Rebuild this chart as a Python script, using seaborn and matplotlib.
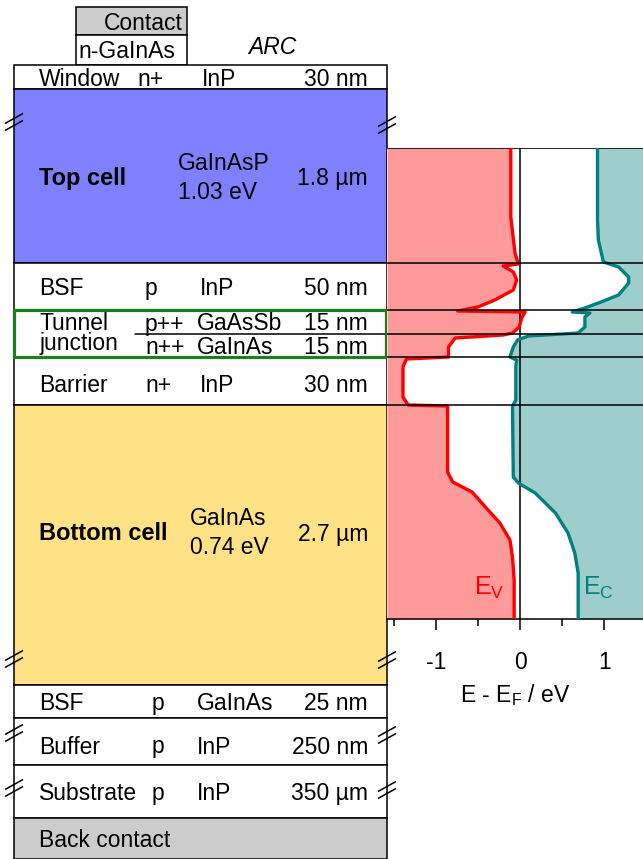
import numpy as np
import pandas as pd
import seaborn as sns
import matplotlib.pyplot as plt
from matplotlib.patches import Rectangle

# layer stack (schematic depth, top -> bottom)
layer_top = [65, 89, 263, 310, 357, 405, 685, 718, 765, 818]
layer_bottom = [89, 263, 310, 357, 405, 685, 718, 765, 818, 859]
layer_color = ["white", "#8080FF", "white", "white", "white", "#FFE285",
               "white", "white", "white", "#CCCCCC"]
layer_name = ["Window", "Top cell", "BSF", "Tunnel\njunction", "Barrier",
              "Bottom cell", "BSF", "Buffer", "Substrate", "Back contact"]
layer_doping = ["n+", "", "p", "", "n+", "", "p", "p", "p", ""]
layer_material = ["InP", "GaInAsP\n1.03 eV", "InP", "", "InP",
                  "GaInAs\n0.74 eV", "GaInAs", "InP", "InP", ""]
layer_thickness = ["30 nm", "1.8 µm", "50 nm", "", "30 nm", "2.7 µm",
                   "25 nm", "250 nm", "350 µm", ""]
tunnel_doping = ["p++", "n++"]
tunnel_material = ["GaAsSb", "GaInAs"]
tunnel_thickness = ["15 nm", "15 nm"]
tunnel_split = 334

# band edges vs depth
ev_depth = [148, 217, 253, 264, 266, 272, 280, 290, 300, 307, 311, 312, 318,
            327, 333, 335, 338, 347, 357, 359, 367, 397, 405, 406, 472, 482,
            492, 510, 523, 540, 557, 580, 619]
ev_energy = [-0.11, -0.11, -0.06, -0.02, -0.20, -0.08, -0.04, -0.08, -0.30,
             -0.50, -0.74, 0.06, 0.02, -0.01, -0.09, -0.20, -0.77, -0.85,
             -0.85, -1.35, -1.39, -1.39, -1.33, -0.86, -0.86, -0.80, -0.57,
             -0.38, -0.24, -0.12, -0.09, -0.07, -0.07]
ec_depth = [148, 220, 240, 262, 267, 277, 283, 295, 303, 308, 312, 313, 317,
            327, 333, 336, 340, 347, 357, 360, 366, 400, 406, 477, 483, 493,
            513, 533, 553, 573, 619]
ec_energy = [0.92, 0.92, 0.93, 0.99, 1.17, 1.29, 1.29, 1.17, 0.93, 0.77, 0.62,
             0.83, 0.77, 0.77, 0.69, 0.10, -0.03, -0.08, -0.12, -0.04, -0.05,
             -0.05, -0.09, -0.08, -0.02, 0.18, 0.42, 0.57, 0.65, 0.69, 0.69]
band_lines = [263, 310, 334, 357, 405]

sns.set_style("white")
plt.rcParams["font.family"] = ["Liberation Sans", "DejaVu Sans"]
plt.rcParams["mathtext.fontset"] = "custom"
plt.rcParams["mathtext.rm"] = "Liberation Sans"
plt.rcParams["mathtext.it"] = "Liberation Sans:italic"
plt.rcParams["text.color"] = "black"
plt.rcParams["axes.labelcolor"] = "black"
plt.rcParams["xtick.color"] = "black"

fs = 16.5
dy = 2  # nudge so caps sit centred like the original
fig = plt.figure(figsize=(6.43, 8.59), dpi=100)
ax0 = fig.add_axes([0, 0, 1, 1])
ax0.set_xlim(0, 643)
ax0.set_ylim(859, 0)
ax0.axis("off")

x_left, x_right = 14, 387

# contact on top
ax0.add_patch(Rectangle((76, 7), 111, 28, facecolor="#CCCCCC", edgecolor="black", lw=1.1))
ax0.add_patch(Rectangle((76, 35), 111, 30, facecolor="white", edgecolor="black", lw=1.1))
ax0.text(183, 21 + dy, "Contact", ha="right", va="center", fontsize=fs)
ax0.text(78, 50 + dy, "n-GaInAs", ha="left", va="center", fontsize=fs)
ax0.text(272, 45 + dy, "ARC", ha="center", va="center", fontsize=fs, style="italic")

for i in range(len(layer_top)):
    top, bot = layer_top[i], layer_bottom[i]
    ax0.add_patch(Rectangle((x_left, top), x_right - x_left, bot - top,
                            facecolor=layer_color[i], edgecolor="black", lw=1.1))
    mid = (top + bot) / 2 + dy
    name = layer_name[i]
    if name in ("Top cell", "Bottom cell"):
        ym = (177 if name == "Top cell" else 532) + dy
        ax0.text(39, ym, name, ha="left", va="center", fontsize=17, weight="bold")
        mx = 178 if name == "Top cell" else 190
        ax0.text(mx, ym - 1, layer_material[i], ha="left", va="center", fontsize=fs,
                 linespacing=1.3)
        ax0.text(368, ym, layer_thickness[i], ha="right", va="center", fontsize=fs)
        continue
    if name.startswith("Tunnel"):
        ax0.text(40, mid - 2, name, ha="left", va="center", fontsize=fs, linespacing=0.85)
        for k, yy in enumerate([322, 346]):
            ax0.text(145, yy + dy, tunnel_doping[k], ha="left", va="center", fontsize=fs)
            ax0.text(197, yy + dy, tunnel_material[k], ha="left", va="center", fontsize=fs)
            ax0.text(368, yy + dy, tunnel_thickness[k], ha="right", va="center", fontsize=fs)
        ax0.plot([135, x_right], [tunnel_split, tunnel_split], color="black", lw=1.1)
        continue
    if name == "Barrier":
        mid = 384 + dy
    if name == "Buffer":
        mid = 745 + dy
    ax0.text(39, mid, name, ha="left", va="center", fontsize=fs)
    if layer_doping[i]:
        dx = 137 if name == "Window" else (145 if i < 6 else 152)
        ax0.text(dx, mid, layer_doping[i], ha="left", va="center", fontsize=fs)
    if layer_material[i]:
        mx = 202 if name == "Window" else (200 if i < 6 else 197)
        ax0.text(mx, mid, layer_material[i], ha="left", va="center", fontsize=fs)
    if layer_thickness[i]:
        ax0.text(368, mid, layer_thickness[i], ha="right", va="center", fontsize=fs)

# tunnel junction frame
ax0.add_patch(Rectangle((x_left, 310), x_right - x_left - 1, 47, facecolor="none",
                        edgecolor="#1E7D1E", lw=2.3, zorder=5))

# break marks
for bx, by in [(14, 122), (387, 125), (14, 659), (387, 660),
               (14, 733), (387, 735), (14, 788), (387, 790)]:
    for off in (-3.5, 3.5):
        ax0.plot([bx - 9, bx + 9], [by + off + 5, by + off - 5], color="black",
                 lw=1.1, zorder=6, solid_capstyle="butt")

# band diagram
ax = fig.add_axes([387 / 643, (859 - 619) / 859, 256 / 643, (619 - 148) / 859])
xmin, xmax = -1.58, 1.46
ax.fill_betweenx(ev_depth, xmin, ev_energy, color="#FF9A9A", lw=0)
ax.fill_betweenx(ec_depth, ec_energy, xmax, color="#9ECECC", lw=0)
ev_df = pd.DataFrame({"E": ev_energy, "z": ev_depth})
ec_df = pd.DataFrame({"E": ec_energy, "z": ec_depth})
sns.lineplot(data=ev_df, x="E", y="z", sort=False, estimator=None, color="#FF0000",
             lw=2.4, ax=ax, zorder=4)
sns.lineplot(data=ec_df, x="E", y="z", sort=False, estimator=None, color="#008080",
             lw=2.4, ax=ax, zorder=4)
ax.axvline(0, color="black", lw=1.1, zorder=3)
for yy in band_lines:
    ax.axhline(yy, color="black", lw=1.1, zorder=5)
ax.set_xlim(xmin, xmax)
ax.set_ylim(619, 148)
ax.set_yticks([])
ax.set_xticks([-1, 0, 1])
ax.set_xticklabels(["-1", "0", "1"])
ax.set_xticks([-1.5, -0.5, 0.5], minor=True)
ax.tick_params(axis="x", which="major", direction="out", length=8, width=1.1,
               pad=15, labelsize=fs, bottom=True)
ax.tick_params(axis="x", which="minor", direction="out", length=5, width=1.1, bottom=True)
for s in ["left", "right"]:
    ax.spines[s].set_visible(False)
ax.spines["top"].set_linewidth(0.6)
ax.spines["bottom"].set_linewidth(1.1)
ax.spines["bottom"].set_color("black")
ax.spines["top"].set_color("black")
ax.set_xlabel(r"E - E$_\mathrm{F}$ / eV", fontsize=fs, labelpad=6)
ax.set_ylabel("")
ax.text(-0.36, 588, r"E$_\mathrm{V}$", color="#FF0000", fontsize=18, ha="center", va="center")
ax.text(0.93, 588, r"E$_\mathrm{C}$", color="#008080", fontsize=18, ha="center", va="center")

fig.savefig("out.png", dpi=100)
